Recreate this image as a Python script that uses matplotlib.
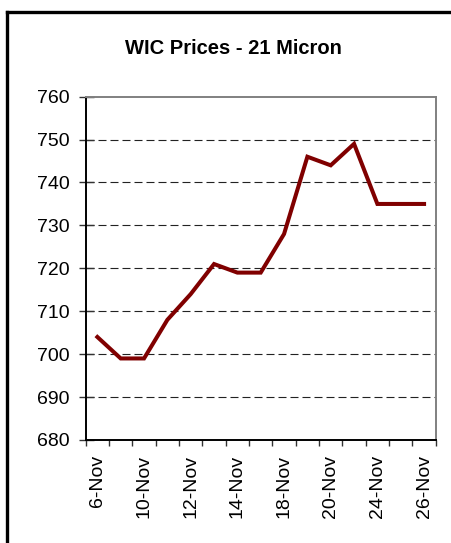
import matplotlib
matplotlib.use("Agg")
import matplotlib.pyplot as plt
from matplotlib.lines import Line2D

# WIC prices, 21 micron wool (cents/kg), one value per trading day
dates = ["6-Nov", "7-Nov", "10-Nov", "11-Nov", "12-Nov", "13-Nov", "14-Nov", "17-Nov",
         "18-Nov", "19-Nov", "20-Nov", "21-Nov", "24-Nov", "25-Nov", "26-Nov"]
prices = [704, 699, 699, 708, 714, 721, 719, 719, 728, 746, 744, 749, 735, 735, 735]
yticks = [680, 690, 700, 710, 720, 730, 740, 750, 760]

plt.rcParams.update({"font.family": "Liberation Sans", "font.size": 14})

fig = plt.figure(figsize=(4.52, 5.43), dpi=100)
ax = fig.add_axes([0.1896, 0.1897, 0.964 - 0.1896, 0.822 - 0.1897])

x = list(range(len(dates)))
ax.plot(x, prices, color="#800000", lw=2.9, solid_joinstyle="miter", zorder=3)

ax.set_xlim(-0.5, len(dates) - 0.5)
ax.set_ylim(680, 760)
ax.set_yticks(yticks)
for v in yticks[1:-1]:
    ax.axhline(v, color="#222222", lw=0.8, dashes=(7.2, 3.6), zorder=1)

# ticks sit on category boundaries, labels on every other category
ax.set_xticks([i - 0.5 for i in range(len(dates) + 1)])
ax.set_xticklabels([])
ax.set_xticks(x[::2], minor=True)
ax.set_xticklabels(dates[::2], minor=True, rotation=90)
ax.tick_params(axis="x", which="major", direction="out", length=4.3, width=1.0, color="#333333")
ax.tick_params(axis="x", which="minor", length=0, pad=11)
ax.tick_params(axis="y", direction="inout", length=10.8, width=1.0, color="#333333", pad=6)

for s in ("left", "bottom"):
    ax.spines[s].set_color("black")
    ax.spines[s].set_linewidth(1.4)
for s in ("right", "top"):
    ax.spines[s].set_color("#808080")
    ax.spines[s].set_linewidth(1.4)

fig.text(0.516, 0.911, "WIC Prices - 21 Micron", ha="center", va="center",
         fontsize=14.5, fontweight="bold")

# chart frame (top and left edges visible in the crop)
fig.add_artist(Line2D([0.0146, 1.0], [0.9785, 0.9785], color="black", lw=2.4,
                      transform=fig.transFigure))
fig.add_artist(Line2D([0.0146, 0.0146], [0.0, 0.9785], color="black", lw=2.4,
                      transform=fig.transFigure))

fig.savefig("out.png", dpi=100)
